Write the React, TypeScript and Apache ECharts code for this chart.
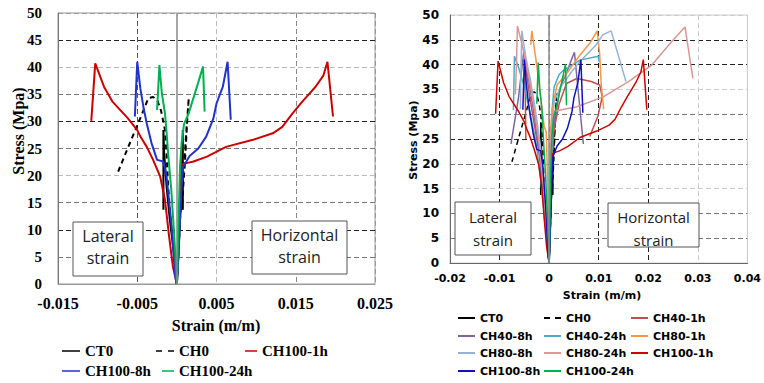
import React, { useEffect, useRef } from "react";
import * as echarts from "echarts";

type Pt = [number, number];

// ---- shared curves (strain, stress) ----
const CT0_lat: Pt[] = [[0, 0], [-0.0004, 6], [-0.0009, 12], [-0.0013, 18], [-0.0016, 24], [-0.0017, 28.4], [-0.0017, 13.7]];
const CT0_hor: Pt[] = [[0, 0], [0.0002, 6], [0.0004, 12], [0.0006, 18], [0.0007, 24], [0.00075, 28.4], [0.00075, 13.7]];
const CH0_lat: Pt[] = [[0, 0], [-0.0004, 6], [-0.0008, 12], [-0.0011, 18], [-0.0013, 24], [-0.0015, 28.4], [-0.002, 32], [-0.0025, 34], [-0.003, 34.5], [-0.0036, 34.3], [-0.0045, 31], [-0.0055, 27.5], [-0.0065, 24], [-0.0075, 20.4]];
const CH0_hor: Pt[] = [[0, 0], [0.0002, 6], [0.0004, 12], [0.0007, 18], [0.001, 24], [0.0012, 28.4], [0.0015, 34.3], [0.0013, 30], [0.001, 22], [0.0006, 13.7]];
const CH100_1h_lat: Pt[] = [[0, 0], [-0.0005, 3.2], [-0.001, 9], [-0.0015, 15.5], [-0.0021, 19.8], [-0.003, 22.9], [-0.0038, 25.3], [-0.0046, 27.2], [-0.005, 28.4], [-0.0062, 30.6], [-0.0081, 33.6], [-0.0092, 36.4], [-0.0103, 40.7], [-0.0108, 30.1]];
const CH100_1h_hor: Pt[] = [[0, 0], [0.0001, 5], [0.0003, 12], [0.0005, 18], [0.0006, 22], [0.0012, 22.3], [0.0021, 22.6], [0.0038, 23.5], [0.0062, 25.3], [0.0096, 26.6], [0.0121, 27.8], [0.0133, 29], [0.0146, 31.5], [0.0158, 33.6], [0.0175, 36.4], [0.0185, 38.5], [0.019, 41], [0.0197, 30.9]];
const CH100_8h_lat: Pt[] = [[0, 0], [-0.0002, 1.3], [-0.0007, 11.2], [-0.0013, 19.8], [-0.0017, 22.6], [-0.0025, 22.9], [-0.0032, 26], [-0.0038, 29.6], [-0.0042, 32.5], [-0.0046, 36], [-0.005, 41], [-0.0053, 30.9]];
const CH100_8h_hor: Pt[] = [[0, 0], [0.0002, 5], [0.0004, 12], [0.0006, 18], [0.0008, 21.6], [0.0016, 23.6], [0.0027, 25], [0.0037, 27.2], [0.0046, 30.5], [0.005, 33.3], [0.0058, 36.4], [0.0064, 41], [0.0068, 30.3]];
const CH100_24h_lat: Pt[] = [[0, 0], [-0.0003, 8.1], [-0.0007, 17.3], [-0.0011, 24], [-0.0013, 28], [-0.0015, 31.5], [-0.0019, 35.2], [-0.0022, 40.4], [-0.0025, 32.1]];
const CH100_24h_hor: Pt[] = [[0, 0], [0.0001, 5], [0.0002, 11.2], [0.0004, 21.6], [0.0006, 26], [0.0009, 29.5], [0.0015, 31.5], [0.002, 33.9], [0.0027, 37.2], [0.0033, 40.1], [0.0035, 31.8]];

// ---- right-panel extra curves ----
const CH40_1h_lat: Pt[] = [[0, 0], [-0.0006, 8], [-0.0012, 15], [-0.002, 22], [-0.003, 28], [-0.004, 34], [-0.0046, 38.5], [-0.005, 41.5], [-0.0048, 33], [-0.0047, 25]];
const CH40_1h_hor: Pt[] = [[0, 0], [0.0002, 10], [0.0005, 20], [0.001, 27], [0.002, 32], [0.0035, 36.2], [0.0056, 37.2], [0.0085, 36.6], [0.0102, 35.9], [0.0107, 33.5], [0.0099, 29.8], [0.0082, 25.5]];
const CH40_8h_lat: Pt[] = [[0, 0], [-0.0006, 8], [-0.0013, 16], [-0.0022, 24], [-0.0032, 31], [-0.0042, 37.5], [-0.0051, 42.8], [-0.0062, 33.2], [-0.0077, 24]];
const CH40_8h_hor: Pt[] = [[0, 0], [0.0002, 10], [0.0004, 20], [0.0008, 27], [0.0015, 31], [0.0022, 35.3], [0.0036, 38.6], [0.0045, 41], [0.0051, 42.5], [0.0069, 24]];
const CH40_24h_lat: Pt[] = [[0, 0], [-0.0008, 8], [-0.0016, 16], [-0.0026, 24], [-0.0038, 30], [-0.005, 35.5], [-0.0062, 39.5], [-0.007, 41.7], [-0.0072, 30.8]];
const CH40_24h_hor: Pt[] = [[0, 0], [0.0002, 12], [0.0004, 24], [0.0006, 31], [0.001, 35.5], [0.002, 38], [0.003, 38.9], [0.0062, 40.9], [0.0099, 41.7], [0.0101, 40.5]];
const CH80_1h_lat: Pt[] = [[0, 0], [-0.0002, 10], [-0.0004, 20], [-0.0006, 26.5], [-0.001, 27.5], [-0.0017, 33.3], [-0.0022, 37.5], [-0.0027, 41.3], [-0.0035, 46.8], [-0.0037, 44]];
const CH80_1h_hor: Pt[] = [[0, 0], [0.0001, 10], [0.0002, 20], [0.0003, 26.5], [0.0005, 30], [0.001, 33], [0.0016, 35.9], [0.0036, 38.3], [0.0062, 41.9], [0.0082, 44.3], [0.0097, 46.8], [0.0102, 42], [0.0105, 36], [0.011, 31]];
const CH80_8h_lat: Pt[] = [[0, 0], [-0.0005, 8], [-0.001, 16], [-0.0018, 24], [-0.0028, 31], [-0.0038, 37], [-0.0048, 42], [-0.0055, 46.8], [-0.0057, 38], [-0.0058, 31]];
const CH80_8h_hor: Pt[] = [[0, 0], [0.0002, 10], [0.0004, 20], [0.0007, 28], [0.001, 32.5], [0.0022, 35.3], [0.0045, 38.5], [0.0062, 40.6], [0.0095, 44], [0.0108, 46], [0.0125, 46.8], [0.0155, 36.6]];
const CH80_24h_lat: Pt[] = [[0, 0], [-0.0006, 8], [-0.0012, 16], [-0.002, 24], [-0.003, 31], [-0.004, 37], [-0.005, 42], [-0.0057, 45], [-0.0064, 47.8], [-0.0066, 40], [-0.0068, 34]];
const CH80_24h_hor: Pt[] = [[0, 0], [0.0001, 10], [0.0002, 20], [0.0004, 27], [0.0008, 30.5], [0.003, 31], [0.0056, 31.5], [0.0109, 33.5], [0.0161, 36.6], [0.0207, 39.9], [0.0247, 44.6], [0.0274, 47.6], [0.029, 37.2]];

// ---- axes / labels ----
const leftXTicks = { min: -0.015, max: 0.025, interval: 0.01 };
const rightXTicks = { min: -0.02, max: 0.04, interval: 0.01 };
const yTicks = { min: 0, max: 50, interval: 5 };
const leftLegendNames = ["CT0", "CH0", "CH100-1h", "CH100-8h", "CH100-24h"];
const rightLegendNames = ["CT0", "CH0", "CH40-1h", "CH40-8h", "CH40-24h", "CH80-1h", "CH80-8h", "CH80-24h", "CH100-1h", "CH100-8h", "CH100-24h"];

type Def = { name: string; color: string; dash?: boolean; lat: Pt[]; hor: Pt[] };

const leftDefs: Def[] = [
  { name: "CT0", color: "#000000", lat: CT0_lat, hor: CT0_hor },
  { name: "CH0", color: "#000000", dash: true, lat: CH0_lat, hor: CH0_hor },
  { name: "CH100-1h", color: "#cc0000", lat: CH100_1h_lat, hor: CH100_1h_hor },
  { name: "CH100-8h", color: "#2233cc", lat: CH100_8h_lat, hor: CH100_8h_hor },
  { name: "CH100-24h", color: "#00b050", lat: CH100_24h_lat, hor: CH100_24h_hor },
];

const rightDefs: Def[] = [
  { name: "CT0", color: "#000000", lat: CT0_lat, hor: CT0_hor },
  { name: "CH0", color: "#000000", dash: true, lat: CH0_lat, hor: CH0_hor },
  { name: "CH40-1h", color: "#c0504d", lat: CH40_1h_lat, hor: CH40_1h_hor },
  { name: "CH40-8h", color: "#8064a2", lat: CH40_8h_lat, hor: CH40_8h_hor },
  { name: "CH40-24h", color: "#4bacc6", lat: CH40_24h_lat, hor: CH40_24h_hor },
  { name: "CH80-1h", color: "#f79646", lat: CH80_1h_lat, hor: CH80_1h_hor },
  { name: "CH80-8h", color: "#95b3d7", lat: CH80_8h_lat, hor: CH80_8h_hor },
  { name: "CH80-24h", color: "#d99694", lat: CH80_24h_lat, hor: CH80_24h_hor },
  { name: "CH100-1h", color: "#d00000", lat: CH100_1h_lat, hor: CH100_1h_hor },
  { name: "CH100-8h", color: "#1010c0", lat: CH100_8h_lat, hor: CH100_8h_hor },
  { name: "CH100-24h", color: "#00b050", lat: CH100_24h_lat, hor: CH100_24h_hor },
];

function buildSeries(defs: Def[], width: number) {
  const out: any[] = [
    {
      type: "line",
      name: "zero",
      data: [],
      z: 1,
      markLine: {
        silent: true,
        symbol: ["none", "none"],
        label: { show: false },
        lineStyle: { color: "#888", type: "solid", width: 1.5 },
        data: [{ xAxis: 0 }],
      },
    },
  ];
  defs.forEach((d) => {
    [d.lat, d.hor].forEach((data) => {
      out.push({
        type: "line",
        name: d.name,
        data,
        symbol: "none",
        showSymbol: false,
        z: 3,
        lineStyle: { color: d.color, width, type: d.dash ? [5, 4] : "solid" },
        itemStyle: { color: d.color },
      });
    });
  });
  return out;
}

// legend icons: flat bar (solid) or two short bars (dashed)
function iconFor(w: number, dashed: boolean) {
  if (!dashed) return "rect";
  const d = Math.round(w / 3);
  return `path://M0,0h${d}v2h-${d}z M${w - d},0h${d}v2h-${d}z`;
}

function legendItem(name: string, textX: number, cy: number, font: any, iconW: number, t: number, lh: number, dashed: boolean) {
  const noBorder = { borderWidth: 0, borderColor: "transparent" };
  return {
    data: [{ name, icon: iconFor(iconW, dashed), itemStyle: noBorder }],
    left: textX - iconW - 3,
    top: cy - lh / 2,
    padding: 0,
    itemWidth: iconW,
    itemHeight: t,
    symbolKeepAspect: false,
    selectedMode: false,
    itemStyle: noBorder,
    lineStyle: { width: 0 },
    textStyle: { ...font, lineHeight: lh, color: "#000" },
  };
}

function box(x: number, y: number, w: number, h: number, text: string, cx: number, cy: number, font: string, lh: number) {
  return [
    { type: "rect", z: 1, shape: { x, y, width: w, height: h }, style: { fill: "#fff", stroke: "#555", lineWidth: 1 } },
    {
      type: "text",
      z: 2,
      x: cx,
      y: cy,
      style: { text, font, fill: "#222", align: "center", verticalAlign: "middle", lineHeight: lh },
    },
  ];
}

export default function App() {
  const leftRef = useRef<HTMLDivElement>(null);
  const rightRef = useRef<HTMLDivElement>(null);

  useEffect(() => {
    const serifBold = { fontFamily: "Liberation Serif", fontWeight: "bold" as const };
    const sansBold = { fontFamily: "DejaVu Sans", fontWeight: "bold" as const };

    const left = echarts.init(leftRef.current!, null, { renderer: "svg" });
    const leftGridY = ["#999", "#777", "#222", "#777", "#bbb", "#777", "#222", "#777", "#bbb", "#222", "#999"];
    const leftGridX = ["#999", "#555", "#bbb", "#888", "#999"];
    const lFont = { ...serifBold, fontSize: 15 };
    left.setOption({
      animation: false,
      grid: { left: 58, top: 13, width: 317, height: 271, show: true, borderColor: "#999", borderWidth: 1 },
      xAxis: {
        type: "value",
        ...leftXTicks,
        axisLine: { show: true, lineStyle: { color: "#999" } },
        axisTick: { show: false },
        axisLabel: { ...serifBold, fontSize: 16, color: "#000", margin: 11, formatter: (v: number) => v.toFixed(3) },
        splitLine: { show: true, lineStyle: { type: [5, 3], color: leftGridX, width: 1 } },
      },
      yAxis: {
        type: "value",
        ...yTicks,
        axisLine: { show: true, onZero: false, lineStyle: { color: "#777" } },
        axisTick: { show: false },
        axisLabel: { ...serifBold, fontSize: 15, color: "#000", margin: 16 },
        splitLine: { show: true, lineStyle: { type: [5, 3], color: leftGridY, width: 1 } },
      },
      legend: [
        legendItem(leftLegendNames[0], 83, 351, lFont, 18, 1.5, 16, false),
        legendItem(leftLegendNames[1], 177, 351, lFont, 18, 1.5, 16, true),
        legendItem(leftLegendNames[2], 260, 351, lFont, 12, 1.5, 16, false),
        legendItem(leftLegendNames[3], 83, 371, lFont, 18, 1.5, 16, false),
        legendItem(leftLegendNames[4], 177, 371, lFont, 12, 1.5, 16, false),
      ],
      graphic: [
        ...box(73, 222, 70, 54, "Lateral\nstrain", 108, 247, '16px "Open Sans"', 22),
        ...box(252, 221, 95, 53, "Horizontal\nstrain", 299.5, 246, '16px "Open Sans"', 22),
        {
          type: "text",
          x: 18,
          y: 131,
          rotation: Math.PI / 2,
          style: { text: "Stress (Mpa)", font: 'bold 16px "Liberation Serif"', fill: "#000", align: "center", verticalAlign: "middle" },
        },
        {
          type: "text",
          x: 216,
          y: 325,
          style: { text: "Strain (m/m)", font: 'bold 16px "Liberation Serif"', fill: "#000", align: "center", verticalAlign: "middle" },
        },
      ],
      series: buildSeries(leftDefs, 2),
    });

    const right = echarts.init(rightRef.current!, null, { renderer: "svg" });
    const rightGridY = ["#666", "#777", "#777", "#ccc", "#777", "#222", "#777", "#ccc", "#222", "#222", "#ccc"];
    const rightGridX = ["#666", "#222", "#888", "#222", "#222", "#ccc", "#ccc"];
    const rFont = { ...sansBold, fontSize: 11 };
    right.setOption({
      animation: false,
      grid: { left: 450, top: 15, width: 305, height: 248, show: true, borderColor: "#ccc", borderWidth: 1 },
      xAxis: {
        type: "value",
        ...rightXTicks,
        axisLine: { show: true, lineStyle: { color: "#666" } },
        axisTick: { show: false },
        axisLabel: { ...rFont, color: "#000", margin: 10, formatter: (v: number) => (Math.abs(v) < 1e-9 ? "0" : String(+v.toFixed(2))) },
        splitLine: { show: true, lineStyle: { type: [5, 3], color: rightGridX, width: 1 } },
      },
      yAxis: {
        type: "value",
        ...yTicks,
        axisLine: { show: true, onZero: false, lineStyle: { color: "#666" } },
        axisTick: { show: false },
        axisLabel: { ...rFont, fontSize: 12, color: "#000", margin: 11 },
        splitLine: { show: true, lineStyle: { type: [5, 3], color: rightGridY, width: 1 } },
      },
      legend: rightLegendNames.map((n, i) => {
        const col = i % 3;
        const row = Math.floor(i / 3);
        const tx = [478, 564, 651][col];
        const cy = [318, 336, 353, 371][row];
        return legendItem(n, tx, cy, rFont, 17, 2, 14, n === "CH0");
      }),
      graphic: [
        ...box(455, 202, 76, 53, "Lateral\nstrain", 493, 228, '15px "Open Sans"', 23),
        ...box(608, 203, 91, 44, "Horizontal\nstrain", 653.5, 228, '15px "Open Sans"', 23),
        {
          type: "text",
          x: 413,
          y: 140,
          rotation: Math.PI / 2,
          style: { text: "Stress (Mpa)", font: 'bold 11px "DejaVu Sans"', fill: "#000", align: "center", verticalAlign: "middle" },
        },
        {
          type: "text",
          x: 602,
          y: 295,
          style: { text: "Strain (m/m)", font: 'bold 11px "DejaVu Sans"', fill: "#000", align: "center", verticalAlign: "middle" },
        },
      ],
      series: buildSeries(rightDefs, 1.5),
    });

    return () => {
      left.dispose();
      right.dispose();
    };
  }, []);

  const st: React.CSSProperties = { position: "absolute", left: 0, top: 0, width: 764, height: 383 };
  return (
    <div style={{ position: "absolute", left: 0, top: 0, width: 764, height: 383, background: "#fff" }}>
      <div ref={leftRef} style={st} />
      <div ref={rightRef} style={st} />
    </div>
  );
}
